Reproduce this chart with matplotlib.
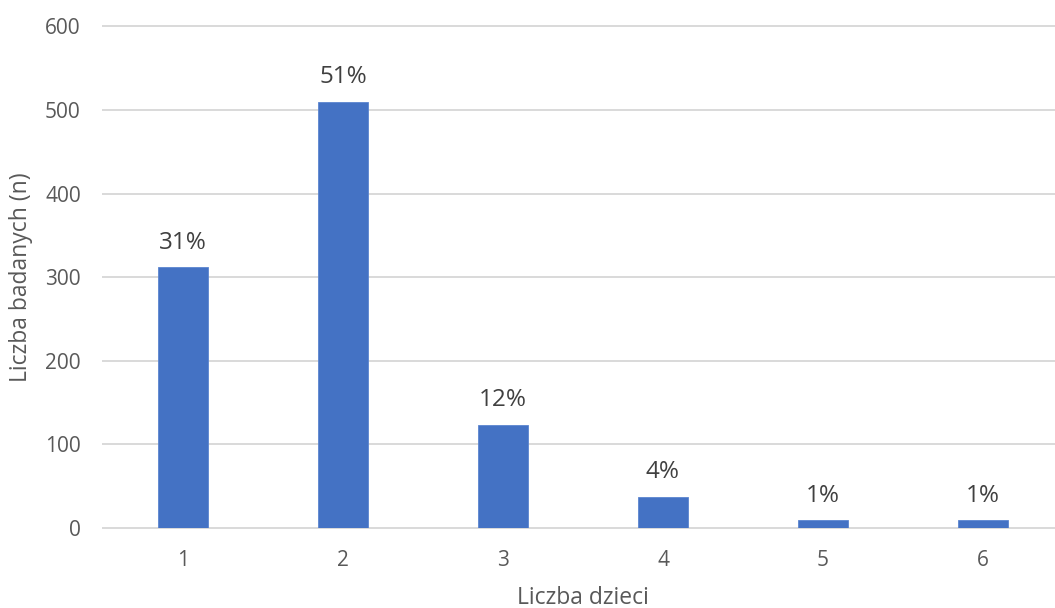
import matplotlib.pyplot as plt

plt.rcParams['font.family'] = ['Open Sans', 'DejaVu Sans']

# number of children per respondent
categories = ['1', '2', '3', '4', '5', '6']
counts = [312, 510, 123, 37, 9, 9]
shares = ['31%', '51%', '12%', '4%', '1%', '1%']

fig = plt.figure(figsize=(10.55, 6.08), dpi=100)
ax = fig.add_axes([103 / 1055, 1 - 527.7 / 608, 1 - 103 / 1055, (527.7 - 26.5) / 608])

x = list(range(1, len(categories) + 1))
bars = ax.bar(x, counts, width=0.3125, color='#4472C4', edgecolor='#5B85D0', linewidth=0.6, zorder=3)

for b, lab in zip(bars, shares):
    ax.annotate(lab, (b.get_x() + b.get_width() / 2, b.get_height()),
                xytext=(0, 9), textcoords='offset points', ha='center', va='bottom',
                fontsize=17.5, color='#404040')

ax.set_xlim(0.5, 6.45)
ax.set_ylim(0, 600)
ax.set_yticks(range(0, 601, 100))
ax.set_xticks(x, categories)
ax.grid(axis='y', color='#D9D9D9', linewidth=1.4, zorder=0)
for gl in ax.get_ygridlines():
    gl.set_clip_on(False)
ax.set_axisbelow(True)
for s in ax.spines.values():
    s.set_visible(False)
ax.tick_params(axis='both', length=0, labelsize=15, labelcolor='#595959')
ax.tick_params(axis='y', pad=16)
ax.tick_params(axis='x', pad=16)

ax.set_xlabel('Liczba dzieci', fontsize=16.5, color='#595959', va='center')
ax.set_ylabel('Liczba badanych (n)', fontsize=16.5, color='#595959', va='center')
ax.xaxis.set_label_coords(0.5 * 1 + (583 - 103 - 476) / 952, -(598 - 527.7) / 501.2)
ax.yaxis.set_label_coords(-(103 - 21) / 952, 0.5)

fig.savefig('out.png', dpi=100)
